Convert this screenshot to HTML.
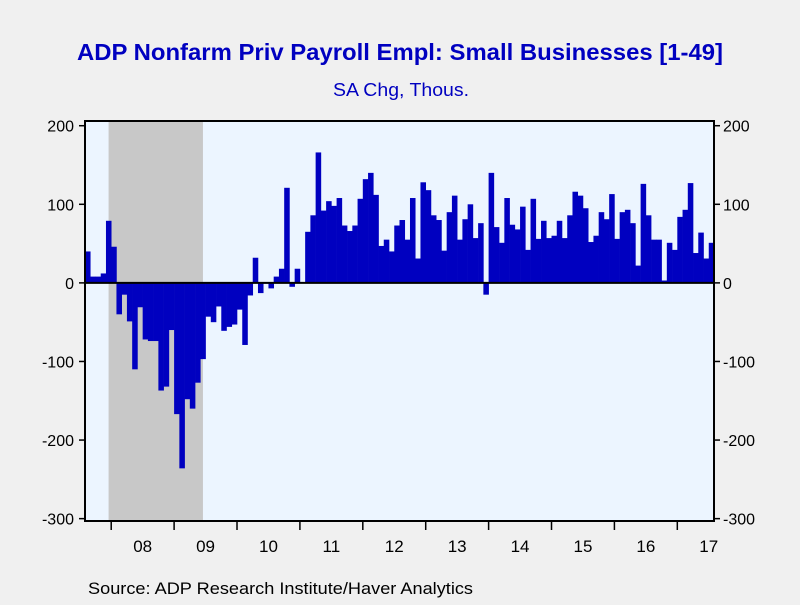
<!DOCTYPE html>
<html><head><meta charset="utf-8"><style>
body{margin:0;background:#f0f0f0;font-family:"Liberation Sans",sans-serif;}
#wrap{position:relative;width:800px;height:600px;background:#f0f0f0;}
</style></head><body>
<div id="wrap">
<svg id="svg" width="800" height="600" xmlns="http://www.w3.org/2000/svg">
<text x="400" y="60" text-anchor="middle" font-size="23" font-weight="bold" fill="#0000c0" font-family="Liberation Sans" textLength="646" lengthAdjust="spacingAndGlyphs">ADP Nonfarm Priv Payroll Empl: Small Businesses [1-49]</text>
<text x="401" y="96" text-anchor="middle" font-size="18" fill="#0000c0" font-family="Liberation Sans" textLength="136" lengthAdjust="spacingAndGlyphs">SA Chg, Thous.</text>
<text x="88" y="594" font-size="17" fill="#000" font-family="Liberation Sans" textLength="385" lengthAdjust="spacingAndGlyphs">Source:  ADP Research Institute/Haver Analytics</text>
</svg>
</div>
<script>
const values=[40,8,8,12,79,46,-40,-15,-49,-110,-31,-72,-74,-74,-137,-132,-60,-167,-236,-148,-160,-127,-97,-43,-50,-30,-61,-56,-53,-34,-79,-16,32,-13,-1,-7,8,18,121,-5,18,0,65,86,166,92,104,98,108,73,66,73,107,132,140,112,47,55,40,73,80,55,108,31,128,118,86,80,41,90,111,55,81,100,57,76,-15,140,71,51,108,74,68,97,42,107,56,79,57,60,79,57,86,116,111,95,52,60,90,81,113,56,90,93,76,22,126,86,55,55,3,51,42,84,93,127,38,64,31,51];
const startYear=2007, startMonth=8; // Aug 2007
const yTicks=[200,100,0,-100,-200,-300];
const yearLabels=["08","09","10","11","12","13","14","15","16","17"];
const recession=[[2007,12],[2009,6]];

const L=85,R=714,T=121,B=521,yMin=-303,yMax=206;
const n=values.length, step=(R-L)/n;
const NS="http://www.w3.org/2000/svg";
const svg=document.getElementById('svg');
function y(v){return B-(v-yMin)/(yMax-yMin)*(B-T);}
function xi(i){return L+i*step;}
function idx(yr,m){return (yr-startYear)*12+(m-startMonth);}
function mk(tag,attrs){const e=document.createElementNS(NS,tag);for(const k in attrs)e.setAttribute(k,attrs[k]);svg.appendChild(e);return e;}

const bg=mk('rect',{x:L,y:T,width:R-L,height:B-T,fill:'#ecf5ff'});


const r0=idx(...recession[0])+0.5, r1=idx(...recession[1])+0.5;
const sh=mk('rect',{x:xi(r0),y:T,width:xi(r1)-xi(r0),height:B-T,fill:'#c8c8c8'});



values.forEach((v,i)=>{
  const y0=y(0),yv=y(v);
  const b=mk('rect',{x:xi(i),y:Math.min(y0,yv),width:step+0.3,height:Math.abs(yv-y0),fill:'#0000c0'});
  
  
});
const z=mk('line',{x1:L,x2:R,y1:y(0),y2:y(0),stroke:'#000','stroke-width':2});


const fr=mk('rect',{x:L,y:T,width:R-L,height:B-T,fill:'none',stroke:'#000','stroke-width':2});



yTicks.forEach(t=>{
  const yy=y(t);
  mk('line',{x1:L-6,x2:L,y1:yy,y2:yy,stroke:'#000','stroke-width':1.5});
  mk('line',{x1:R,x2:R+6,y1:yy,y2:yy,stroke:'#000','stroke-width':1.5});
  const a=mk('text',{x:L-11,y:yy+6,'text-anchor':'end','font-size':16,'font-family':'Liberation Sans',fill:'#000'});
  a.textContent=t;
  
  
  const c=mk('text',{x:R+9,y:yy+6,'text-anchor':'start','font-size':16,'font-family':'Liberation Sans',fill:'#000'});
  c.textContent=t;
  
  
});
yearLabels.forEach((lab,k)=>{
  const i0=idx(2008+k,1);
  const xt=xi(i0);
  mk('line',{x1:xt,x2:xt,y1:B,y2:B+9,stroke:'#000','stroke-width':1.5});
  const xc=Math.min(xi(i0+6),R-4);
  const t=mk('text',{x:xc,y:B+31,'text-anchor':'middle','font-size':17,'font-family':'Liberation Sans',fill:'#000'});
  t.textContent=lab;
  
  
});
</script>
</body></html>
